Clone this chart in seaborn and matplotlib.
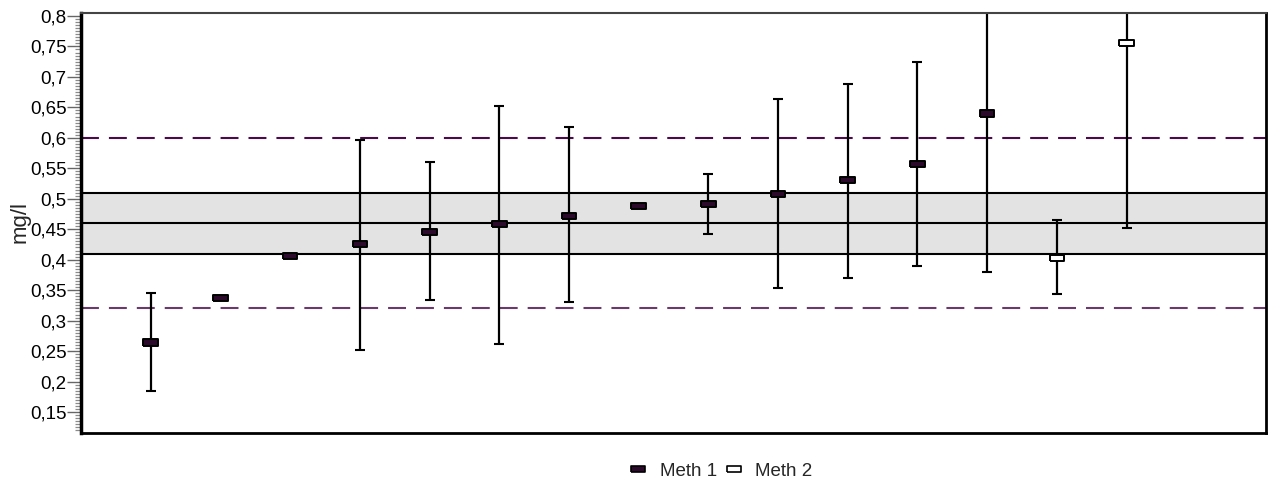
import numpy as np
import pandas as pd
import matplotlib
matplotlib.use("Agg")
import matplotlib.pyplot as plt
from matplotlib.ticker import MultipleLocator, FuncFormatter
from matplotlib.lines import Line2D
import seaborn as sns

# ---- data ----
labs = list(range(1, 16))
values = [0.264, 0.337, 0.406, 0.426, 0.445, 0.459, 0.472, 0.488, 0.491,
          0.508, 0.531, 0.557, 0.640, 0.403, 0.755]
lower = [0.185, np.nan, np.nan, 0.252, 0.333, 0.261, 0.330, np.nan, 0.442,
         0.354, 0.370, 0.390, 0.380, 0.343, 0.452]
upper = [0.346, np.nan, np.nan, 0.597, 0.561, 0.653, 0.617, np.nan, 0.541,
         0.663, 0.688, 0.725, 0.900, 0.465, 1.058]
method = ["Meth 1"] * 13 + ["Meth 2"] * 2
assigned = 0.46
band_lo, band_hi = 0.41, 0.51
limit_lo, limit_hi = 0.32, 0.60

df = pd.DataFrame({"lab": labs, "value": values, "lo": lower, "hi": upper,
                   "method": method})

sns.set_theme(style="white")
plt.rcParams['font.family'] = ['Liberation Sans', 'DejaVu Sans']
FS = 13.5

fig = plt.figure(figsize=(12.71, 4.84), dpi=100)
ax = fig.add_axes([81/1271, 1-433/484, 1185/1271, (433-13.3)/484])

# band
ax.axhspan(band_lo, band_hi, color="#E3E3E3", zorder=0, lw=0)
for v in (band_lo, assigned, band_hi):
    ax.axhline(v, color="black", lw=1.5, zorder=1)
# limits
ax.axhline(limit_hi, color="#4B0B4B", lw=1.5, ls=(0, (8.6, 4.8)), zorder=1)
ax.axhline(limit_lo, color="#6A3A6A", lw=1.5, ls=(0, (8.6, 4.8)), zorder=1)

# error bars
m = df["lo"].notna()
d = df[m]
eb = ax.errorbar(d["lab"], d["value"],
                 yerr=[d["value"] - d["lo"], d["hi"] - d["value"]],
                 fmt="none", ecolor="black", elinewidth=1.6, capsize=3.6,
                 capthick=1.5, zorder=2)
for c in eb[1]:
    c.set_color("#5A1A5A")

rect = [(-1, -0.42), (1, -0.42), (1, 0.42), (-1, 0.42), (-1, -0.42)]
sns.scatterplot(data=df, x="lab", y="value", hue="method", style="method",
                palette={"Meth 1": "#2B0A2B", "Meth 2": "white"},
                markers={"Meth 1": rect, "Meth 2": rect},
                s=110, edgecolor="black", linewidth=1.4, zorder=3,
                legend=False, ax=ax)

ax.set_xlim(0, 17)
ax.set_ylim(0.1155, 0.8044)
ax.set_xticks([])
ax.set_xlabel("")
ax.set_ylabel("")
ax.yaxis.set_major_locator(MultipleLocator(0.05))
ax.yaxis.set_minor_locator(MultipleLocator(0.005))
ax.yaxis.set_major_formatter(FuncFormatter(
    lambda v, p: (f"{v:.2f}".rstrip("0").rstrip(".")).replace(".", ",")))
ax.tick_params(axis="y", which="major", left=True, length=10, width=1,
               color="#666666", labelsize=FS, pad=0.5, labelcolor="black")
ax.tick_params(axis="y", which="minor", left=True, length=4, width=0.9,
               color="#8A8A8A")
for s in ax.spines.values():
    s.set_color("black")
ax.spines["left"].set_linewidth(2.5)
ax.spines["bottom"].set_linewidth(2.0)
ax.spines["top"].set_linewidth(1.5)
ax.spines["right"].set_linewidth(2.0)
ax.spines["top"].set_color("#444444")

fig.text(20/1271, 1-222/484, "mg/l", rotation=90, ha="center", va="center",
         fontsize=16)

handles = [Line2D([], [], ls="none", marker=rect, markersize=10.5,
                  markerfacecolor="#2B0A2B", markeredgecolor="black",
                  markeredgewidth=1.2),
           Line2D([], [], ls="none", marker=rect, markersize=10.5,
                  markerfacecolor="white", markeredgecolor="black",
                  markeredgewidth=1.2)]
fig.legend(handles, ["Meth 1", "Meth 2"], loc="center",
           bbox_to_anchor=(721/1271, 1-471/484), ncol=2, frameon=False,
           fontsize=FS, handlelength=0.9, handletextpad=0.7,
           columnspacing=0.45, borderpad=0, borderaxespad=0)

fig.savefig("out.png", dpi=100)
